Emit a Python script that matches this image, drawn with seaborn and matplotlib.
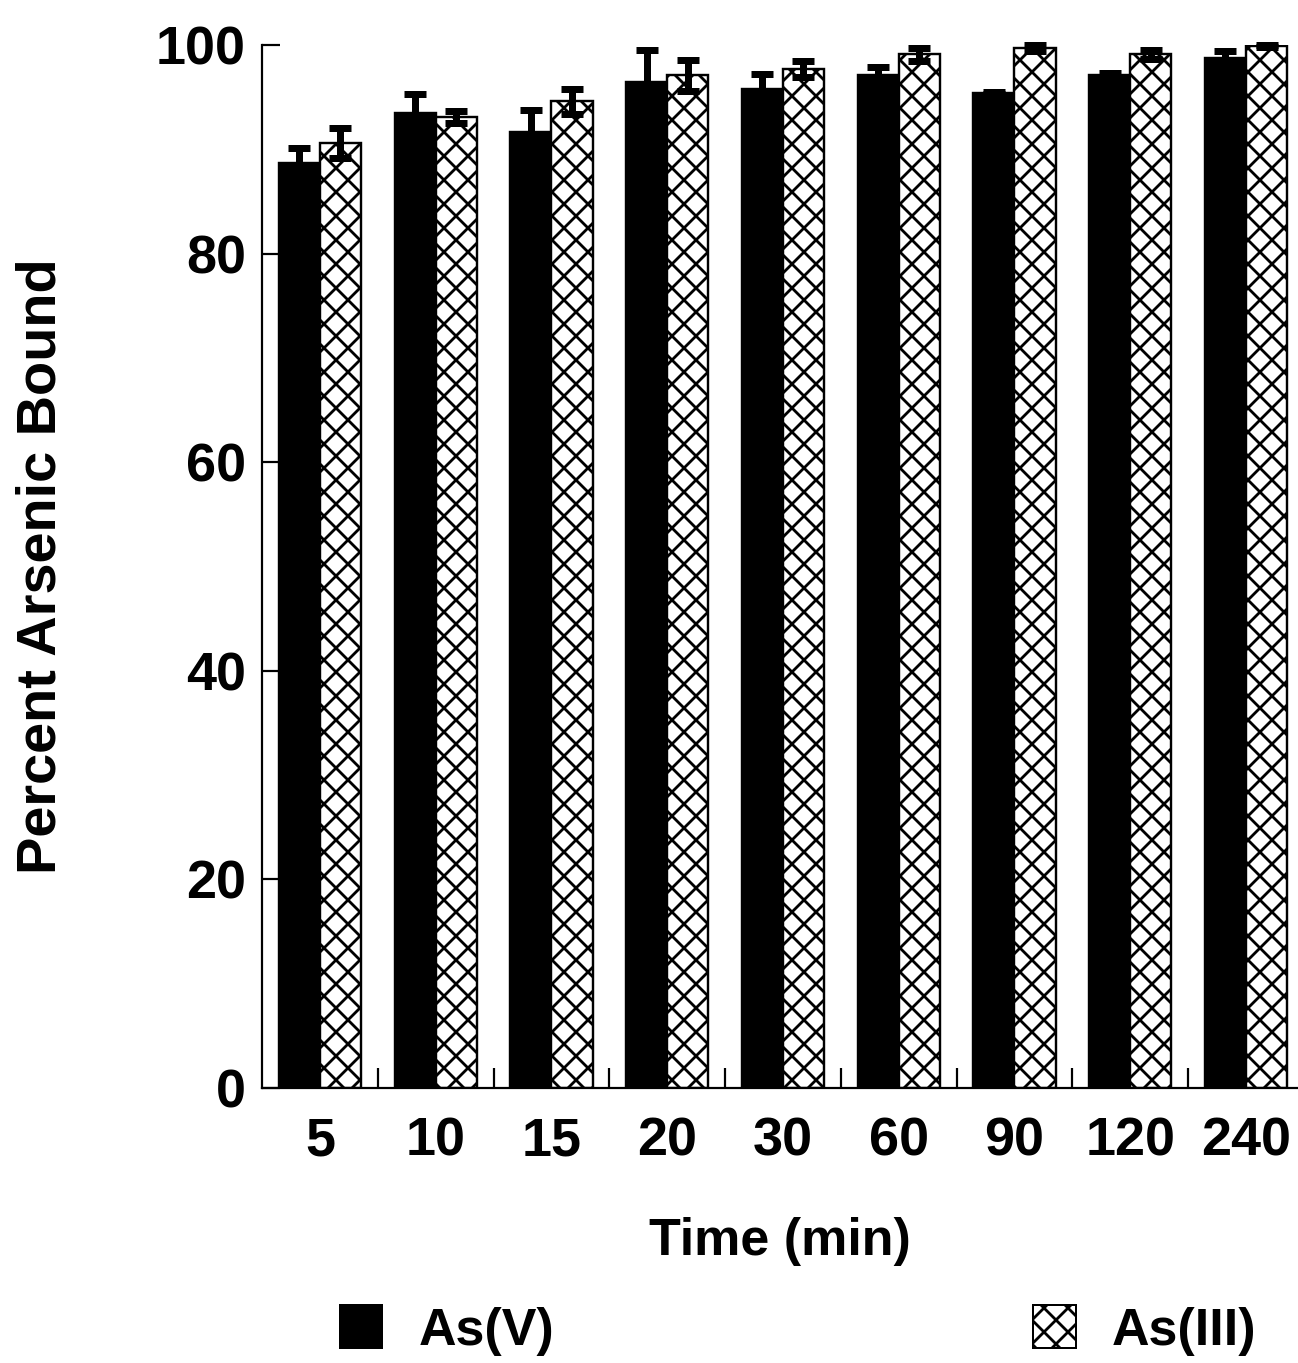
import numpy as np
import pandas as pd
import matplotlib
matplotlib.use("Agg")
import matplotlib.pyplot as plt
import matplotlib.patches as mpatches
from matplotlib.ticker import FixedLocator, MultipleLocator
import seaborn as sns

# Binding time course: mean percent bound and standard deviation
times = ["5", "10", "15", "20", "30", "60", "90", "120", "240"]
as5_mean = [88.7, 93.5, 91.7, 96.5, 95.8, 97.1, 95.4, 97.1, 98.8]
as5_sd = [1.4, 1.8, 2.1, 3.0, 1.4, 0.8, 0.1, 0.2, 0.6]
as3_mean = [90.6, 93.1, 94.6, 97.1, 97.7, 99.1, 99.7, 99.1, 99.9]
as3_sd = [1.4, 0.6, 1.2, 1.5, 0.8, 0.6, 0.3, 0.4, 0.1]
species = ["As(V)", "As(III)"]

df = pd.DataFrame({
    "Time": times * 2,
    "Species": [species[0]] * len(times) + [species[1]] * len(times),
    "Bound": as5_mean + as3_mean,
    "SD": as5_sd + as3_sd,
})

sns.set_theme(style="ticks")
plt.rcParams["font.family"] = ["Liberation Sans", "DejaVu Sans"]
plt.rcParams["font.weight"] = "bold"
plt.rcParams["text.color"] = "black"
plt.rcParams["axes.labelcolor"] = "black"
plt.rcParams["xtick.color"] = "black"
plt.rcParams["ytick.color"] = "black"
plt.rcParams["hatch.linewidth"] = 1.4
plt.rcParams["hatch.color"] = "black"

DPI = 144
fig = plt.figure(figsize=(1298 / DPI, 1363 / DPI), dpi=DPI)
ax = fig.add_axes([262 / 1298, 275 / 1363, (1298 - 262) / 1298, (1088 - 45) / 1363])

sns.barplot(data=df, x="Time", y="Bound", hue="Species", order=times,
            hue_order=species, palette=["black", "white"], width=0.71,
            gap=0, errorbar=None, edgecolor="black", linewidth=1.2,
            legend=False, ax=ax)

# cross-hatched fill for As(III)
for bar in ax.containers[1]:
    bar.set_hatch("xx")
    bar.set_facecolor("white")
    bar.set_edgecolor("black")

# error bars at the bar centres
for cont, sp in zip(ax.containers, species):
    sub = df[df["Species"] == sp].set_index("Time").loc[times]
    xs = [b.get_x() + b.get_width() / 2 for b in cont]
    ax.errorbar(xs, sub["Bound"].values, yerr=sub["SD"].values, fmt="none",
                ecolor="black", elinewidth=3.5, capsize=5.5, capthick=3.5,
                zorder=5, clip_on=False)

ax.set_xlim(-0.5, (1298 - 320) / 115.75)
ax.set_ylim(0, 100)
ax.yaxis.set_major_locator(MultipleLocator(20))
ax.xaxis.set_minor_locator(FixedLocator([i + 0.5 for i in range(len(times) - 1)]))

sns.despine(ax=ax, top=True, right=True)
for s in ("left", "bottom"):
    ax.spines[s].set_linewidth(1.1)
    ax.spines[s].set_color("black")

ax.tick_params(axis="y", direction="in", length=9, width=1.1, pad=8,
               labelsize=27, color="black", labelcolor="black")
ax.tick_params(axis="x", which="major", length=0, pad=14, labelsize=27,
               labelcolor="black")
ax.tick_params(axis="x", which="minor", direction="in", length=10, width=1.1,
               color="black")
for lab in ax.get_xticklabels() + ax.get_yticklabels():
    lab.set_fontweight("bold")

ax.set_xlabel("Time (min)", fontsize=26, fontweight="bold", labelpad=25.5,
              color="black")
ax.set_ylabel("Percent Arsenic Bound", fontsize=28, fontweight="bold",
              labelpad=44, color="black")

handles = [
    mpatches.Patch(facecolor="black", edgecolor="black", label=species[0]),
    mpatches.Patch(facecolor="white", edgecolor="black", hatch="xx", label=species[1]),
]
fig.legend(handles=handles, loc="center", bbox_to_anchor=(0.615, 0.024),
           ncol=2, frameon=False, prop={"size": 26, "weight": "bold"},
           handlelength=0.82, handleheight=0.9, handletextpad=0.7,
           columnspacing=9.2, labelcolor="black")

fig.savefig("out.png", dpi=DPI)
